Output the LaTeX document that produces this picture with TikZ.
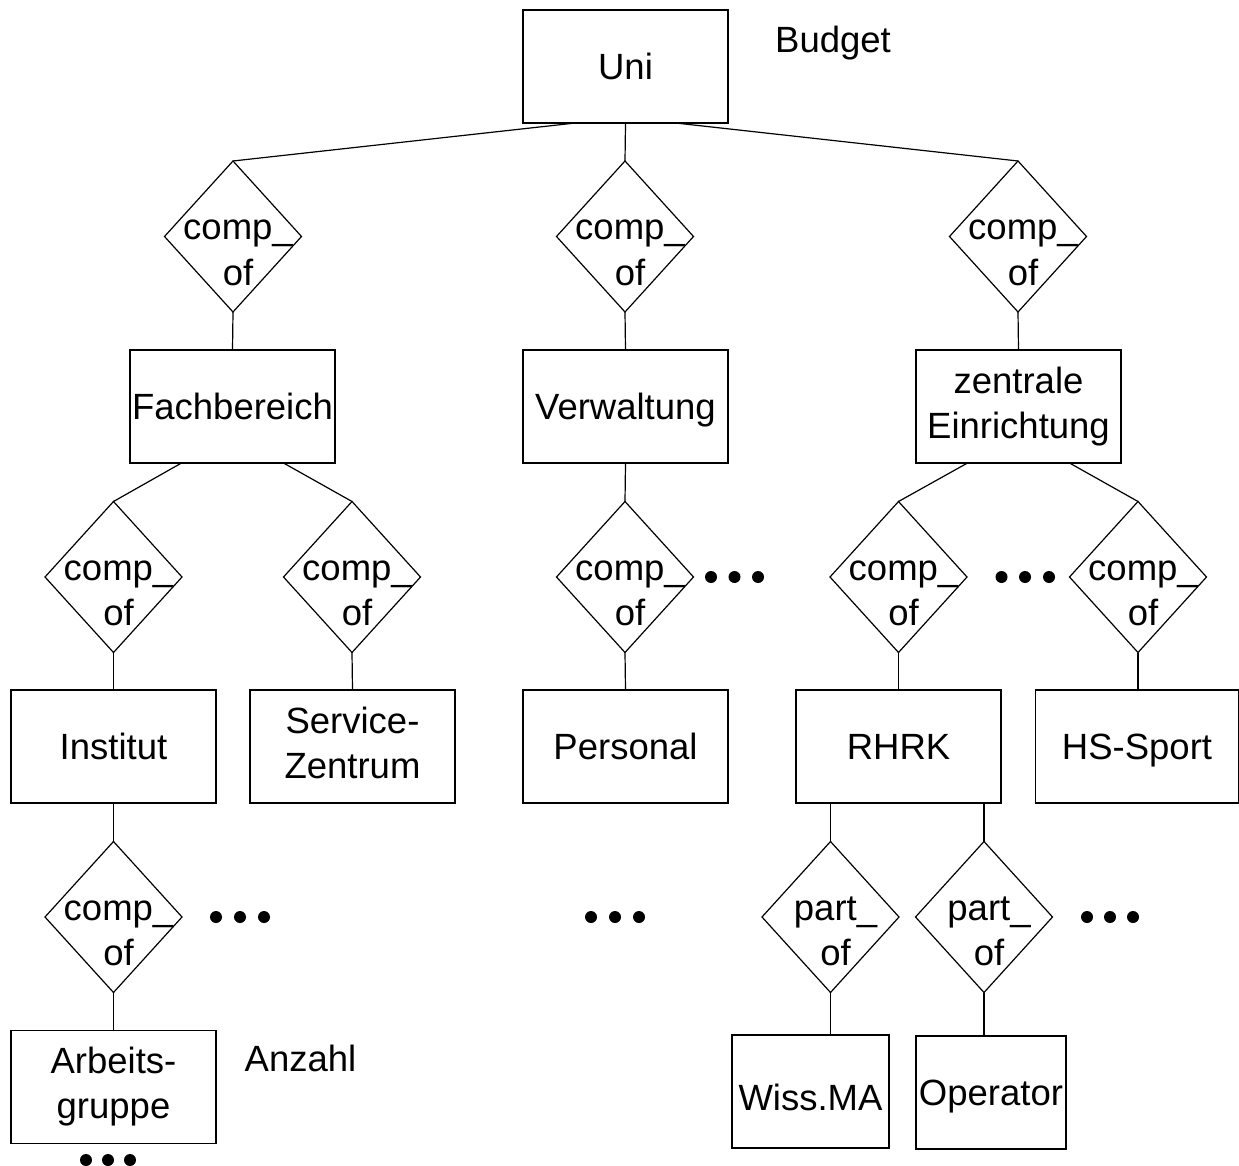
\documentclass[tikz,border=0pt]{standalone}
\usepackage{fontspec}
\setmainfont{Liberation Sans}
\usetikzlibrary{shapes.geometric,calc}
\begin{document}
\begin{tikzpicture}[x=1pt,y=-1pt,line width=1.2pt,
  every node/.style={font=\fontsize{36.5}{45}\selectfont},
  ent/.style={draw,rectangle,inner sep=0pt,outer sep=0pt,minimum width=205pt,minimum height=113pt,align=center},
  one/.style={text height=26pt,text depth=0pt},
  rel/.style={draw,diamond,inner sep=0pt,outer sep=0pt,minimum width=137pt,minimum height=151pt},
  rtxt/.style={align=center,inner sep=0pt,xshift=5pt,yshift=-17pt},
  plain/.style={inner sep=0pt,text height=26pt,text depth=0pt},
  dot/.style={fill=black}]
\useasboundingbox (0,0) rectangle (1239,1166);
% entities
\node[ent,one] (uni) at (625.5,66.5) {Uni};
\node[ent,one] (fach) at (232.5,406.5) {Fachbereich};
\node[ent,one] (verw) at (625.5,406.5) {Verwaltung};
\node[ent] (zent) at (1018.5,406.5) {zentrale\strut\\Einrichtung\strut};
\node[ent,one] (inst) at (113.5,746.5) {Institut};
\node[ent] (serv) at (352.5,746.5) {Service-\strut\\Zentrum\strut};
\node[ent,one] (pers) at (625.5,746.5) {Personal};
\node[ent,one] (rhrk) at (898.5,746.5) {RHRK};
\node[ent,one,minimum width=203pt] (hs) at (1137,746.5) {HS-Sport};
\node[ent] (arb) at (113.5,1087) {Arbeits-\strut\\gruppe\strut};
\node[ent,one,minimum width=157pt,text height=38pt] (wiss) at (810.5,1091.5) {Wiss.MA};
\node[ent,one,minimum width=150pt] (oper) at (991,1092.5) {Operator};
% relationships
\node[rel,label={[rtxt]center:{comp\_\strut\\of\strut}}] (d1) at (233,236.5) {};
\node[rel,label={[rtxt]center:{comp\_\strut\\of\strut}}] (d2) at (625,236.5) {};
\node[rel,label={[rtxt]center:{comp\_\strut\\of\strut}}] (d3) at (1018,236.5) {};
\node[rel,label={[rtxt]center:{comp\_\strut\\of\strut}}] (df1) at (113.5,577) {};
\node[rel,label={[rtxt]center:{comp\_\strut\\of\strut}}] (df2) at (352,577) {};
\node[rel,label={[rtxt]center:{comp\_\strut\\of\strut}}] (dv) at (625,577) {};
\node[rel,label={[rtxt]center:{comp\_\strut\\of\strut}}] (dz1) at (898.5,577) {};
\node[rel,label={[rtxt]center:{comp\_\strut\\of\strut}}] (dz2) at (1138,577) {};
\node[rel,label={[rtxt]center:{comp\_\strut\\of\strut}}] (di) at (113.5,917) {};
\node[rel,label={[rtxt]center:{part\_\strut\\of\strut}}] (dr1) at (830.5,917) {};
\node[rel,label={[rtxt]center:{part\_\strut\\of\strut}}] (dr2) at (984,917) {};
% attribute labels
\node[plain] (budget) at (833,40) {Budget};
\node[plain] (anzahl) at (300.5,1058.5) {Anzahl};
% connectors
\draw ([xshift=-50pt]uni.south) -- (d1.north);
\draw (uni.south) -- (d2.north);
\draw ([xshift=50pt]uni.south) -- (d3.north);
\draw (d1.south) -- (fach.north);
\draw (d2.south) -- (verw.north);
\draw (d3.south) -- (zent.north);
\draw ([xshift=-51pt]fach.south) -- (df1.north);
\draw ([xshift=51pt]fach.south) -- (df2.north);
\draw (verw.south) -- (dv.north);
\draw ([xshift=-51pt]zent.south) -- (dz1.north);
\draw ([xshift=51pt]zent.south) -- (dz2.north);
\draw (df1.south) -- (inst.north);
\draw (df2.south) -- (serv.north);
\draw (dv.south) -- (pers.north);
\draw (dz1.south) -- (rhrk.north);
\draw (dz2.south) -- (dz2.south |- hs.north);
\draw (inst.south) -- (di.north);
\draw (di.south) -- (arb.north);
\draw (dr1.north |- rhrk.south) -- (dr1.north);
\draw (dr2.north |- rhrk.south) -- (dr2.north);
\draw (dr1.south) -- (dr1.south |- wiss.north);
\draw (dr2.south) -- (dr2.south |- oper.north);
% ellipsis dots
\foreach \x/\y in {711/577,734.5/577,758/577,
                   1001.5/577,1025/577,1049/577,
                   216/917,240/917,264/917,
                   591/917,615/917,639/917,
                   1087/917,1110/917,1133/917,
                   86/1160,108/1160,130/1160}
  \fill[dot] (\x,\y) circle[radius=6pt];
\end{tikzpicture}
\end{document}
